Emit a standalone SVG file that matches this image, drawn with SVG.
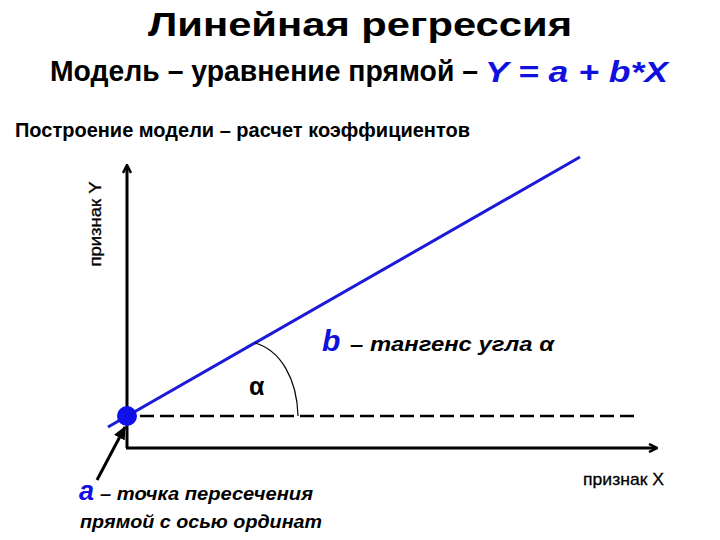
<svg xmlns="http://www.w3.org/2000/svg" width="720" height="540" viewBox="0 0 720 540">
<style>
text{font-family:"Liberation Sans",Arial,sans-serif;font-weight:bold;fill:#000}
.blue{fill:#1010e0}
.it{font-style:italic}
.lbl{font-weight:normal;font-size:17px;stroke:#000;stroke-width:0.3}
.axis{stroke:#000;stroke-width:3;fill:none}
</style>
<defs>
<marker id="ah" markerWidth="10" markerHeight="10" refX="8" refY="5" orient="auto" markerUnits="userSpaceOnUse">
<path d="M1,1 L9,5 L1,9" fill="none" stroke="#000" stroke-width="2.5"/>
</marker>
<marker id="ah2" markerWidth="14" markerHeight="14" refX="12" refY="7" orient="auto" markerUnits="userSpaceOnUse">
<path d="M0,1 L13,7 L0,13 Z" fill="#000"/>
</marker>
</defs>
<rect width="720" height="540" fill="#fff"/>
<g id="title">
<text x="360" y="36" font-size="33" text-anchor="middle" textLength="424" lengthAdjust="spacingAndGlyphs">Линейная регрессия</text>
<text x="50" y="81" font-size="29" textLength="428" lengthAdjust="spacingAndGlyphs">Модель – уравнение прямой –</text>
<text x="485" y="82" font-size="29" class="blue it" textLength="183" lengthAdjust="spacingAndGlyphs">Y = a + b*X</text>
<text x="15" y="137" font-size="20" textLength="455" lengthAdjust="spacingAndGlyphs">Построение модели – расчет коэффициентов</text>
</g>
<g id="connectors">
<line class="axis" x1="127" y1="448" x2="127" y2="166" marker-end="url(#ah)"/>
<line class="axis" x1="126" y1="448" x2="656" y2="448" marker-end="url(#ah)"/>
<line x1="140" y1="416" x2="640" y2="416" stroke="#000" stroke-width="2.5" stroke-dasharray="14,6"/>
<line x1="108" y1="427" x2="580" y2="157" stroke="#1a1ad8" stroke-width="3"/>
<path d="M255,343 C280,350 297,378 298,416" fill="none" stroke="#000" stroke-width="1.2"/>
<line x1="97" y1="480" x2="125" y2="427" stroke="#000" stroke-width="3" marker-end="url(#ah2)"/>
</g>
<g id="point-a">
<circle cx="127" cy="416" r="10" fill="#1010e8"/>
</g>
<g id="labels">
<text x="101" y="224" class="lbl" text-anchor="middle" transform="rotate(-90 101 224)" textLength="85" lengthAdjust="spacingAndGlyphs">признак Y</text>
<text x="583" y="485" class="lbl" textLength="81" lengthAdjust="spacingAndGlyphs">признак X</text>
<text x="249" y="395" font-size="25">α</text>
<text x="322" y="351" font-size="30" class="blue it">b</text>
<text x="350" y="351" font-size="20" class="it" textLength="204" lengthAdjust="spacingAndGlyphs">– тангенс угла α</text>
<text x="79" y="500" font-size="27" class="blue it">a</text>
<text x="100" y="500" font-size="18" class="it" textLength="213" lengthAdjust="spacingAndGlyphs">– точка пересечения</text>
<text x="80" y="528" font-size="18" class="it" textLength="242" lengthAdjust="spacingAndGlyphs">прямой с осью ординат</text>
</g>
</svg>
